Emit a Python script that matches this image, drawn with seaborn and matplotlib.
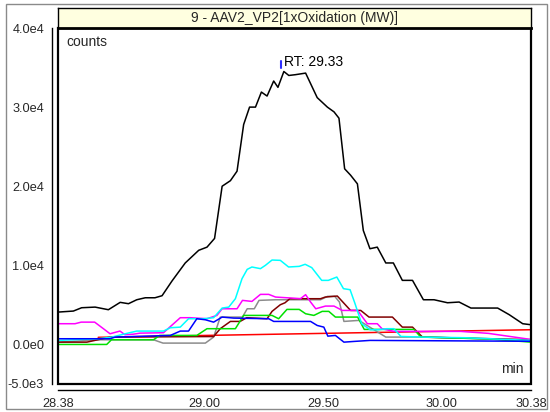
import matplotlib
matplotlib.use('Agg')
import matplotlib.pyplot as plt
import seaborn as sns
import numpy as np
from matplotlib.patches import Rectangle
from matplotlib.ticker import FixedLocator, MultipleLocator, FixedFormatter

# ---------------- data ----------------
title_text = "9 - AAV2_VP2[1xOxidation (MW)]"
rt_label = "RT: 29.33"

black_t = [28.380, 28.445, 28.480, 28.537, 28.593, 28.643, 28.678, 28.713, 28.749, 28.790,
           28.820, 28.862, 28.918, 28.975, 29.010, 29.042, 29.074, 29.109, 29.137, 29.165,
           29.190, 29.215, 29.240, 29.264, 29.292, 29.310, 29.335, 29.356, 29.384, 29.427,
           29.476, 29.519, 29.547, 29.568, 29.592, 29.617, 29.646, 29.671, 29.699, 29.730,
           29.766, 29.798, 29.836, 29.879, 29.925, 29.970, 30.027, 30.076, 30.126, 30.182,
           30.239, 30.288, 30.345, 30.380]
black_v = [4090, 4220, 4640, 4720, 4390, 5320, 5150, 5650, 5900, 5900,
           6160, 8020, 10300, 11900, 12300, 13400, 20000, 20700, 21900, 27800,
           30000, 30000, 31900, 31400, 33300, 32500, 34500, 34000, 34100, 34300,
           31200, 30000, 29400, 28600, 22200, 21400, 20300, 14400, 12100, 12300,
           10300, 10300, 8100, 8100, 5650, 5650, 5270, 5360, 4600, 4600,
           4600, 3760, 2620, 2490]

cyan_t = [28.380, 28.550, 28.608, 28.664, 28.713, 28.826, 28.855, 28.897, 28.932, 28.996,
          29.038, 29.074, 29.102, 29.130, 29.158, 29.180, 29.200, 29.236, 29.257, 29.285,
          29.320, 29.355, 29.400, 29.425, 29.453, 29.495, 29.523, 29.559, 29.587, 29.615,
          29.636, 29.664, 29.700, 29.735, 29.770, 29.800, 29.830, 29.920, 30.100, 30.380]
cyan_v = [510, 720, 930, 1350, 1690, 1690, 2110, 2190, 3250, 3250,
          3380, 4600, 4720, 5780, 8310, 9490, 9790, 9580, 10000, 10670,
          10630, 9790, 9870, 10130, 9710, 8100, 8100, 8520, 7050, 6920,
          5150, 2620, 1860, 1860, 1990, 1990, 1010, 930, 850, 510]

magenta_t = [28.380, 28.452, 28.478, 28.535, 28.572, 28.600, 28.642, 28.663, 28.699, 28.727,
             28.826, 28.897, 28.939, 29.010, 29.052, 29.074, 29.137, 29.160, 29.200, 29.236,
             29.271, 29.300, 29.364, 29.405, 29.427, 29.448, 29.470, 29.511, 29.547, 29.582,
             29.647, 29.688, 29.730, 29.750, 29.800, 30.083, 30.200, 30.260, 30.380]
magenta_v = [2620, 2620, 2820, 2820, 1990, 1350, 1690, 1230, 1300, 1430,
             1480, 3380, 3380, 3250, 3670, 4510, 4510, 5570, 5440, 6330,
             6330, 5990, 5870, 5780, 6290, 5360, 4510, 4850, 4850, 4300,
             4300, 2620, 2620, 1990, 1650, 1650, 1400, 1140, 630]

blue_t = [28.380, 28.600, 28.622, 28.855, 28.897, 28.932, 28.967, 29.003, 29.038, 29.074,
          29.123, 29.271, 29.292, 29.448, 29.476, 29.504, 29.521, 29.553, 29.589, 29.631,
          29.700, 30.380]
blue_v = [720, 720, 930, 1140, 1690, 1690, 3250, 3120, 2820, 3460,
          3330, 3250, 2910, 2910, 2400, 2190, 1050, 1140, 290, 380,
          510, 400]

green_t = [28.380, 28.586, 28.606, 28.784, 28.810, 28.967, 29.010, 29.130, 29.165, 29.285,
           29.313, 29.348, 29.400, 29.427, 29.462, 29.497, 29.525, 29.553, 29.647, 29.675,
           29.885, 29.914, 30.200, 30.380]
green_v = [0, 0, 590, 590, 1140, 1140, 1990, 1990, 3670, 3670,
           3250, 4430, 4430, 3880, 3670, 4180, 4180, 3460, 3460, 1900,
           1900, 930, 700, 290]

maroon_t = [28.380, 28.502, 28.600, 29.038, 29.066, 29.109, 29.150, 29.178, 29.264, 29.285,
            29.320, 29.340, 29.360, 29.490, 29.510, 29.561, 29.617, 29.660, 29.695, 29.794,
            29.836, 29.879, 29.921, 30.380]
maroon_v = [290, 290, 930, 1000, 1990, 2910, 2910, 3380, 3250, 4180,
            5020, 5270, 5780, 5780, 5990, 6120, 4300, 4300, 3460, 3460,
            2190, 2190, 930, 600]

grey_t = [28.380, 28.558, 28.784, 28.824, 29.003, 29.038, 29.066, 29.160, 29.180, 29.210,
          29.230, 29.300, 29.490, 29.520, 29.550, 29.570, 29.589, 29.652, 29.675, 29.766,
          29.950, 30.380]
grey_v = [290, 590, 590, 170, 170, 930, 3460, 3460, 4510, 4510,
          5570, 5650, 5650, 6080, 6080, 5360, 2910, 3040, 2620, 930,
          930, 510]

red_t = [28.550, 30.380]
red_v = [900, 1860]

x_major = [28.38, 29.00, 29.50, 30.00, 30.38]
y_major = [40000, 30000, 20000, 10000, 0, -5000]
y_labels = ["4.0e4", "3.0e4", "2.0e4", "1.0e4", "0.0e0", "-5.0e3"]

# ---------------- figure ----------------
sns.set_style("white")
plt.rcParams['font.family'] = ['Liberation Sans', 'DejaVu Sans']
plt.rcParams['axes.unicode_minus'] = False

W, H = 550, 412
fig = plt.figure(figsize=(5.5, 4.12), dpi=100)
fig.patch.set_facecolor('white')

# outer frame
fig.patches.append(Rectangle((6 / W, 1 - 409 / H), (547 - 6) / W, (409 - 4) / H,
                             transform=fig.transFigure, fill=False,
                             edgecolor='#8a8a8a', lw=1.0, zorder=1))

ax_l, ax_r, ax_t, ax_b = 58, 531, 28, 384
ax = fig.add_axes([ax_l / W, 1 - ax_b / H, (ax_r - ax_l) / W, (ax_b - ax_t) / H])
ax.set_facecolor('white')

series = [
    (red_t, red_v, '#ff0000'),
    (grey_t, grey_v, '#8c8c8c'),
    (maroon_t, maroon_v, '#800000'),
    (green_t, green_v, '#00e000'),
    (magenta_t, magenta_v, '#ff00ff'),
    (cyan_t, cyan_v, '#00ffff'),
    (blue_t, blue_v, '#0000ff'),
    (black_t, black_v, '#000000'),
]
for t, v, c in series:
    sns.lineplot(x=t, y=v, color=c, lw=1.1, ax=ax, sort=False, estimator=None)

ax.set_xlim(28.38, 30.38)
ax.set_ylim(-5000, 40000)

# RT marker
ipk = int(np.argmax(black_v))
tp, vp = black_t[ipk], black_v[ipk]
ax.plot([tp - 0.012, tp - 0.012], [vp + 400, vp + 1300], color='#3030ff', lw=1.5)
ax.text(tp + 0.0, vp + 1150, rt_label, ha='left', va='center', fontsize=10, color='black')

ax.text(0.017, 0.961, "counts", transform=ax.transAxes, ha='left', va='center', fontsize=10)
ax.text(0.985, 0.042, "min", transform=ax.transAxes, ha='right', va='center', fontsize=10)

# box
for s in ['top', 'right']:
    ax.spines[s].set_visible(False)
for s in ['left', 'bottom']:
    ax.spines[s].set_position(('outward', 4.5))
    ax.spines[s].set_linewidth(1.0)
    ax.spines[s].set_color('black')
ax.add_patch(Rectangle((0, 0), 1, 1, transform=ax.transAxes, fill=False,
                       edgecolor='black', lw=1.6, clip_on=False, zorder=10))

ax.xaxis.set_major_locator(FixedLocator(x_major))
ax.set_xticklabels([f"{x:.2f}" for x in x_major], fontsize=9.2)
ax.xaxis.set_minor_locator(FixedLocator(list(np.round(np.arange(28.4, 30.35, 0.1), 2))))
ax.yaxis.set_major_locator(FixedLocator(y_major))
ax.yaxis.set_major_formatter(FixedFormatter(y_labels))
ax.yaxis.set_minor_locator(MultipleLocator(2500))
ax.tick_params(axis='both', which='both', direction='out', length=4, width=1.0,
               color='black', labelsize=9.2, pad=1.5)
ax.set_xlabel('')
ax.set_ylabel('')

# title bar
tb = fig.add_axes([ax_l / W, 1 - ax_t / H, (ax_r - ax_l) / W, (ax_t - 8) / H])
tb.set_facecolor('#ffffe0')
tb.set_xticks([])
tb.set_yticks([])
for s in tb.spines.values():
    s.set_color('black')
    s.set_linewidth(1.0)
tb.spines['bottom'].set_linewidth(2.0)
tb.text(0.5, 0.5, title_text, ha='center', va='center', fontsize=10, transform=tb.transAxes)

fig.savefig('out.png', dpi=100)
